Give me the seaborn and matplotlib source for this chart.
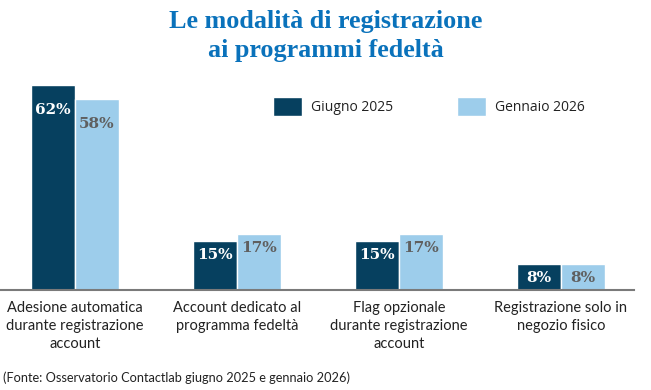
import matplotlib
matplotlib.use('Agg')
import matplotlib.pyplot as plt
import seaborn as sns
import pandas as pd

# Dati
categorie = ['Adesione automatica\ndurante registrazione\naccount',
             'Account dedicato al\nprogramma fedeltà',
             'Flag opzionale\ndurante registrazione\naccount',
             'Registrazione solo in\nnegozio fisico']
periodi = ['Giugno 2025', 'Gennaio 2026']
giugno_2025 = [62, 15, 15, 8]
gennaio_2026 = [58, 17, 17, 8]

df = pd.DataFrame({
    'categoria': categorie * 2,
    'periodo': [periodi[0]] * 4 + [periodi[1]] * 4,
    'valore': giugno_2025 + gennaio_2026,
})

sns.set_style('white')
plt.rcParams['font.family'] = ['Lato', 'DejaVu Sans']

colori = {'Giugno 2025': '#06405f', 'Gennaio 2026': '#9dcdeb'}
col_testo = {'Giugno 2025': 'white', 'Gennaio 2026': '#5f5f5f'}

fig = plt.figure(figsize=(6.51, 3.9), dpi=100)
ax = fig.add_axes([0, 100 / 390, 634 / 651, 230 / 390])

sns.barplot(data=df, x='categoria', y='valore', hue='periodo', order=categorie,
            hue_order=periodi, palette=colori, width=0.543, saturation=1,
            ax=ax)

ax.set_xlim(-0.463, 3.451)
ax.set_ylim(0, 230 / 3.3)
ax.set_xlabel('')
ax.set_ylabel('')
ax.set_yticks([])
sns.despine(ax=ax, left=True)
ax.spines['bottom'].set_color('#7a7a7a')
ax.spines['bottom'].set_linewidth(1.5)
ax.tick_params(axis='x', length=0, pad=8)
for lab in ax.get_xticklabels():
    lab.set_fontsize(10.5)
    lab.set_color('#222222')
    lab.set_linespacing(1.38)

# etichette dentro le barre
for cont, per in zip(ax.containers, periodi):
    for bar in cont:
        h = bar.get_height()
        off = -18 if h > 30 else -10.5
        ax.annotate(f'{h:.0f}%', (bar.get_x() + bar.get_width() / 2, h),
                    xytext=(0, off), textcoords='offset points',
                    ha='center', va='center', fontsize=11,
                    family='DejaVu Serif', weight='bold',
                    color=col_testo[per])

sns.move_legend(ax, loc='upper left', bbox_to_anchor=(273 / 651, 1 - 97 / 390),
                bbox_transform=fig.transFigure, ncol=2, frameon=False,
                title=None, borderpad=0, borderaxespad=0,
                handlelength=2.1, handleheight=1.7, handletextpad=0.65,
                columnspacing=4.6, prop={'family': ['Open Sans', 'DejaVu Sans'], 'size': 10})
for t in ax.get_legend().get_texts():
    t.set_color('#222222')

fig.text(0.5, 1 - 36 / 390, 'Le modalità di registrazione\nai programmi fedeltà',
         ha='center', va='center', fontsize=18.8, weight='bold',
         family=['Liberation Serif', 'DejaVu Serif'], color='#0a72bb',
         linespacing=1.3)

fig.text(3 / 651, 1 - 378 / 390,
         '(Fonte: Osservatorio Contactlab giugno 2025 e gennaio 2026)',
         ha='left', va='center', fontsize=9.2, color='#222222')

fig.savefig('out.png', dpi=100)
